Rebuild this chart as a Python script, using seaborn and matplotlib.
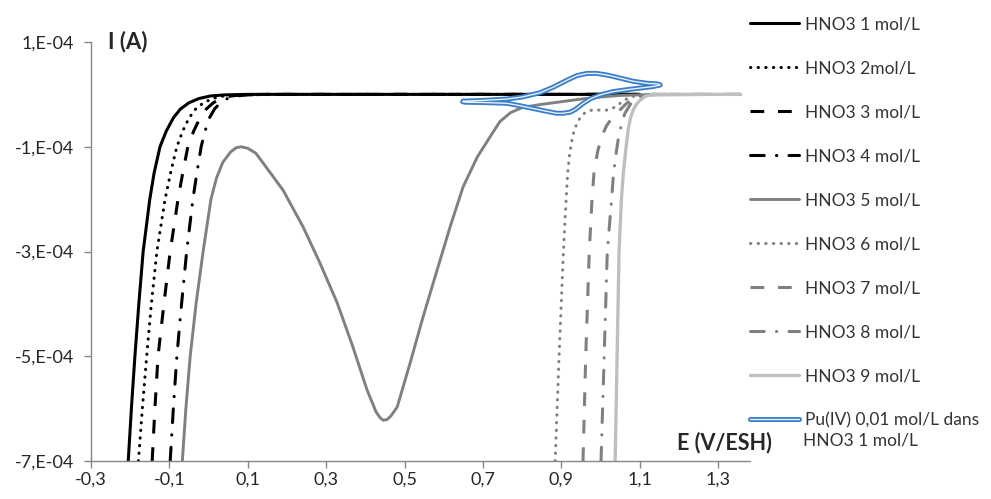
import matplotlib
matplotlib.use("Agg")
import matplotlib.pyplot as plt
import matplotlib.patheffects as pe
import seaborn as sns
import numpy as np

sns.set_style("white")
plt.rcParams['font.family'] = ['Lato', 'DejaVu Sans']

# currents are read in units of 1e-4 A
SCALE = 1e-4

# the four black curves share the same current levels
I_left = [-7.0, -6.0, -5.0, -4.0, -3.0, -2.0, -1.5, -1.0, -0.7, -0.45, -0.28, -0.16, -0.08, -0.03, -0.01, 0.0, 0.0]
E1 = [-0.205, -0.197, -0.188, -0.178, -0.167, -0.150, -0.139, -0.124, -0.108, -0.090, -0.072, -0.050, -0.025, 0.005, 0.040, 0.10, 1.10]
E2 = [-0.179, -0.169, -0.158, -0.146, -0.132, -0.111, -0.097, -0.081, -0.066, -0.050, -0.033, -0.013, 0.010, 0.038, 0.070, 0.13, 1.10]
E3 = [-0.144, -0.137, -0.129, -0.114, -0.098, -0.078, -0.066, -0.053, -0.038, -0.022, -0.006, 0.012, 0.032, 0.058, 0.085, 0.15, 1.10]
E4 = [-0.098, -0.090, -0.081, -0.069, -0.056, -0.040, -0.030, -0.019, -0.009, 0.002, 0.015, 0.030, 0.048, 0.072, 0.100, 0.16, 1.10]

E5 = [-0.067, -0.058, -0.047, -0.032, -0.014, -0.004, 0.006, 0.020, 0.036, 0.056, 0.070, 0.083,
      0.100, 0.120, 0.139, 0.190, 0.241, 0.284, 0.328, 0.368, 0.404, 0.427, 0.437, 0.445,
      0.455, 0.465, 0.481, 0.514, 0.547, 0.583, 0.616, 0.649, 0.685, 0.718, 0.743, 0.770,
      0.800, 0.850, 0.900, 0.950, 1.000, 1.050, 1.100, 1.356]
I5 = [-7.0, -6.0, -5.0, -4.0, -3.0, -2.5, -2.0, -1.6, -1.3, -1.1, -1.02, -1.0,
      -1.03, -1.12, -1.31, -1.83, -2.53, -3.22, -3.98, -4.82, -5.64, -6.06, -6.17, -6.22,
      -6.21, -6.14, -5.97, -5.13, -4.25, -3.35, -2.53, -1.77, -1.20, -0.81, -0.52, -0.35,
      -0.25, -0.19, -0.14, -0.09, -0.05, -0.02, -0.01, 0.0]

E6 = [0.884, 0.894, 0.905, 0.912, 0.916, 0.920, 0.926, 0.932, 0.940, 0.950, 0.962, 0.978,
      1.016, 1.035, 1.050, 1.068, 1.090, 1.120, 1.356]
I6 = [-7.0, -5.0, -3.0, -2.0, -1.5, -1.2, -0.9, -0.7, -0.55, -0.42, -0.34, -0.30,
      -0.30, -0.25, -0.17, -0.08, -0.02, 0.0, 0.0]

E7 = [0.955, 0.962, 0.971, 0.978, 0.983, 0.992, 1.003, 1.015, 1.029, 1.049, 1.065, 1.085, 1.101, 1.130, 1.356]
I7 = [-7.0, -5.0, -3.0, -2.0, -1.5, -1.1, -0.8, -0.6, -0.45, -0.30, -0.18, -0.08, -0.03, 0.0, 0.0]

E8 = [1.001, 1.009, 1.017, 1.028, 1.033, 1.040, 1.046, 1.054, 1.062, 1.075, 1.088, 1.103, 1.130, 1.356]
I8 = [-7.0, -5.0, -3.0, -2.0, -1.5, -1.1, -0.8, -0.55, -0.36, -0.20, -0.10, -0.04, 0.0, 0.0]

E9 = [1.037, 1.042, 1.047, 1.053, 1.058, 1.065, 1.070, 1.076, 1.083, 1.092, 1.101, 1.113, 1.126, 1.150, 1.356]
I9 = [-7.0, -5.0, -3.0, -2.0, -1.5, -1.0, -0.68, -0.45, -0.30, -0.18, -0.11, -0.04, -0.01, 0.0, 0.0]

E_pu = [0.650, 0.700, 0.760, 0.800, 0.845, 0.880, 0.914, 0.940, 0.965, 0.990, 1.016, 1.050,
        1.083, 1.120, 1.145, 1.152, 1.134, 1.100, 1.067, 1.030, 0.999, 0.975, 0.956, 0.935,
        0.922, 0.905, 0.888, 0.860, 0.828, 0.790, 0.760, 0.700, 0.655, 0.648, 0.650]
I_pu = [-0.13, -0.115, -0.09, -0.05, 0.03, 0.14, 0.27, 0.36, 0.40, 0.40, 0.37, 0.31,
        0.25, 0.21, 0.20, 0.18, 0.15, 0.12, 0.09, 0.05, -0.01, -0.08, -0.17, -0.29,
        -0.34, -0.36, -0.36, -0.32, -0.27, -0.21, -0.17, -0.155, -0.15, -0.14, -0.13]

labels = ["HNO3 1 mol/L", "HNO3 2mol/L", "HNO3 3 mol/L", "HNO3 4 mol/L", "HNO3 5 mol/L",
          "HNO3 6 mol/L", "HNO3 7 mol/L", "HNO3 8 mol/L", "HNO3 9 mol/L",
          "Pu(IV) 0,01 mol/L dans"]
label_pu_2 = "HNO3 1 mol/L"

xticks = [-0.3, -0.1, 0.1, 0.3, 0.5, 0.7, 0.9, 1.1, 1.3]
xtick_labels = ["-0,3", "-0,1", "0,1", "0,3", "0,5", "0,7", "0,9", "1,1", "1,3"]
yticks = [1e-4, -1e-4, -3e-4, -5e-4, -7e-4]
ytick_labels = ["1,E-04", "-1,E-04", "-3,E-04", "-5,E-04", "-7,E-04"]

black = "#000000"
gray = "#808080"
light = "#bfbfbf"
dotted = (0, (0.1, 2.4))
dashed = (0, (4.5, 4.5))
dashdot = (0, (4.5, 4, 0.1, 4))

styles = [
    (E1, I_left, black, "solid", 2.2, "butt"),
    (E2, I_left, black, dotted, 2.2, "round"),
    (E3, I_left, black, dashed, 2.2, "butt"),
    (E4, I_left, black, dashdot, 2.2, "round"),
    (E5, I5, gray, "solid", 2.1, "butt"),
    (E6, I6, gray, dotted, 2.2, "round"),
    (E7, I7, gray, dashed, 2.2, "butt"),
    (E8, I8, gray, dashdot, 2.2, "round"),
    (E9, I9, light, "solid", 2.4, "butt"),
]

fig = plt.figure(figsize=(9.91, 4.99), dpi=100)
ax = fig.add_axes([91 / 991, 1 - 461 / 499, 659 / 991, 419 / 499])

for (E, I, c, ls, lw, cap), lab in zip(styles, labels):
    sns.lineplot(x=E, y=np.array(I) * SCALE, sort=False, estimator=None, ax=ax,
                 color=c, linestyle=ls, linewidth=lw, dash_capstyle=cap,
                 solid_joinstyle="round", label=lab)

# Pu(IV) voltammogram: Excel double line
sns.lineplot(x=E_pu, y=np.array(I_pu) * SCALE, sort=False, estimator=None, ax=ax,
             color="#e6f0fa", linewidth=1.0, label=labels[9], solid_joinstyle="round",
             path_effects=[pe.Stroke(linewidth=3.6, foreground="#3a7dc9"), pe.Normal()])

ax.set_xlim(-0.3, 1.381)
ax.set_ylim(-7e-4, 1e-4)
ax.set_xticks(xticks)
ax.set_xticklabels(xtick_labels)
ax.set_yticks(yticks)
ax.set_yticklabels(ytick_labels)
ax.set_xlabel("")
ax.set_ylabel("")
for s in ["top", "right"]:
    ax.spines[s].set_visible(False)
for s in ["left", "bottom"]:
    ax.spines[s].set_color("#868686")
    ax.spines[s].set_linewidth(1.0)
ax.tick_params(direction="out", length=5, width=1, color="#868686",
               labelsize=13, labelcolor="#262626", left=True, bottom=True)
ax.tick_params(axis="y", pad=7)
ax.tick_params(axis="x", pad=3)

fig.text(108 / 991, 1 - 42 / 499, "I (A)", fontsize=16, fontweight="bold", va="center", ha="left")
fig.text(677 / 991, 1 - 443 / 499, "E (V/ESH)", fontsize=15.5, fontweight="bold", va="center", ha="left")

handles, labs = ax.get_legend_handles_labels()
if ax.legend_:
    ax.legend_.remove()
fig.legend(handles, labs, loc="upper left", bbox_to_anchor=(750 / 991, 1 - 16.5 / 499),
           frameon=False, fontsize=12.5, labelspacing=1.61, handlelength=2.8,
           handletextpad=0.35, borderpad=0, borderaxespad=0, labelcolor="#333333")
fig.text(803 / 991, 1 - 441 / 499, label_pu_2, fontsize=12.5, color="#333333", va="center", ha="left")

fig.savefig("out.png", dpi=100)
